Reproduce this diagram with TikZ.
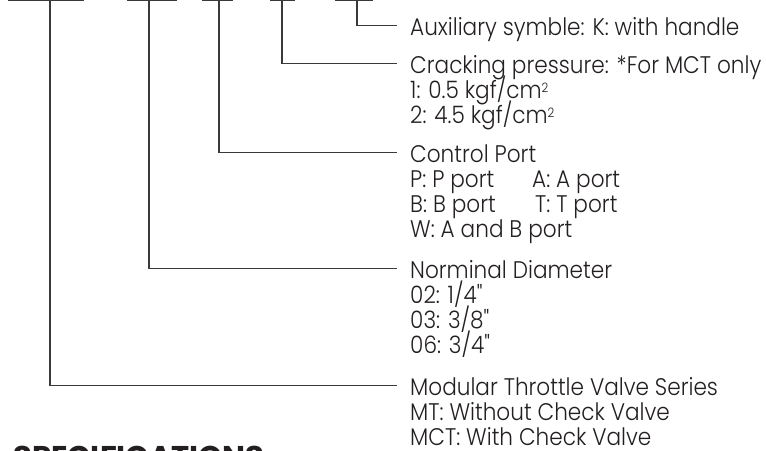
\documentclass[tikz,border=0pt]{standalone}
\usepackage{fontspec}
\setmainfont{Poppins}[FakeStretch=0.9, UprightFont=* Light]
\newfontfamily\headfont{Poppins}[FakeStretch=1.02, UprightFont=* Bold]
\usetikzlibrary{positioning, calc}
\definecolor{ink}{HTML}{231F20}
\definecolor{wire}{HTML}{3A3A3A}
\setlength{\lineskiplimit}{-30pt}
\tikzset{
  bar/.style={draw=wire, line width=1.6pt},
  lead/.style={draw=wire, line width=1.1pt},
  txt/.style={align=left, anchor=north west, inner sep=0pt, text=ink,
              font=\fontsize{24}{25}\selectfont},
  head/.style={anchor=north west, inner sep=0pt, text=ink,
               font=\headfont\fontsize{30}{32}\selectfont},
}
\newcommand{\sqcm}{cm\raisebox{6.5pt}{\fontsize{13}{13}\selectfont 2}}

\begin{document}
\begin{tikzpicture}[x=1pt, y=-1pt]
    \useasboundingbox (0,0) rectangle (766,450);
    % code bars
    \draw[bar] (8,0.5) -- (84,0.5);
    \draw[bar] (127,0.5) -- (177,0.5);
    \draw[bar] (202,0.5) -- (233,0.5);
    \draw[bar] (270,0.5) -- (295,0.5);
    \draw[bar] (335,0.5) -- (373,0.5);
    \coordinate (bSer)   at (50,0.5);
    \coordinate (bDia)   at (149,0.5);
    \coordinate (bCtrl)  at (219,0.5);
    \coordinate (bCrack) at (282,0.5);
    \coordinate (bAux)   at (357,0.5);
    % labels (first baseline 17.5 below north)
    \node[txt] (aux)   at (410,17.5)  {\strut Auxiliary symble: K: with handle};
    \node[txt] (crack) at (410,55.5)  {\strut Cracking pressure: *For MCT only\\1: 0.5 kgf/\sqcm\\2: 4.5 kgf/\sqcm};
    \node[txt] (ctrl)  at (410,144.5) {\strut Control Port\\\makebox[122pt][l]{P: P port}A: A port\\\makebox[125pt][l]{B: B port}T: T port\\W: A and B port};
    \node[txt] (dia)   at (410,260.5) {\strut Norminal Diameter\\02: 1/4\textquotedbl\\03: 3/8\textquotedbl\\06: 3/4\textquotedbl};
    \node[txt] (ser)   at (410,377.5) {\strut Modular Throttle Valve Series\\MT: Without Check Valve\\MCT: With Check Valve};
    % leaders
    \foreach \b/\l in {bAux/aux, bCrack/crack, bCtrl/ctrl, bDia/dia, bSer/ser}
      \draw[lead] (\b) |- ([xshift=-13pt, yshift=-8pt]\l.north west);
    \node[head] (spec) at (13,446) {SPECIFICATIONS};
  \end{tikzpicture}
\end{document}
